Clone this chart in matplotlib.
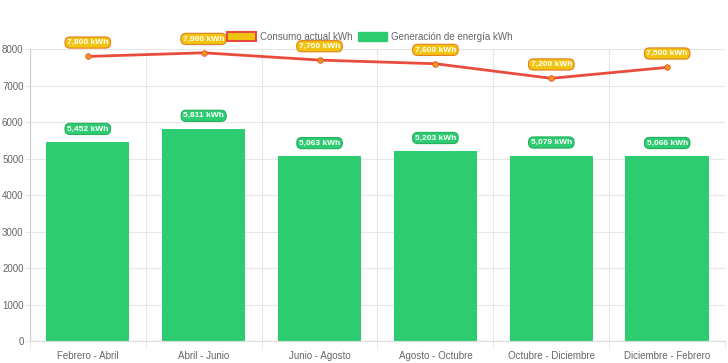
import numpy as np
import matplotlib.pyplot as plt
from matplotlib.patches import Patch

plt.rcParams['font.family'] = ['Liberation Sans', 'DejaVu Sans']

periods = ["Febrero - Abril", "Abril - Junio", "Junio - Agosto",
           "Agosto - Octubre", "Octubre - Diciembre", "Diciembre - Febrero"]
consumo = [7800, 7900, 7700, 7600, 7200, 7500]
generacion = [5452, 5811, 5063, 5203, 5079, 5066]

green = "#2ecc71"
red = "#e74c3c"
yellow = "#f1c40f"
grid_c = "#e6e6e6"
text_c = "#666666"

fig = plt.figure(figsize=(7.28, 3.63), dpi=100)
ax = fig.add_axes([0.041, 0.0606, 0.955, 0.804])

x = np.arange(len(periods))
ax.bar(x, generacion, width=0.72, color=green, zorder=2)
ax.plot(x, consumo, color=red, lw=2, zorder=3)
ax.plot(x, consumo, 'o', ms=4, mfc="#f39c12", mec=red, mew=0.6, zorder=4)

lbl_font = ['Liberation Sans Narrow', 'Liberation Sans', 'DejaVu Sans']
for xi, v in zip(x, generacion):
    ax.annotate(f"{v:,} kWh", (xi, v), xytext=(0, 9.5), textcoords="offset points",
                ha="center", va="center", fontsize=6, fontweight="bold", color="white",
                family=lbl_font,
                bbox=dict(boxstyle="round,pad=0.25,rounding_size=0.6", fc=green, ec="#27ae60", lw=0.8),
                zorder=5)
for xi, v in zip(x, consumo):
    ax.annotate(f"{v:,} kWh", (xi, v), xytext=(0, 10), textcoords="offset points",
                ha="center", va="center", fontsize=6, fontweight="bold", color="white",
                family=lbl_font,
                bbox=dict(boxstyle="round,pad=0.25,rounding_size=0.6", fc=yellow, ec="#e67e22", lw=0.8),
                zorder=5)

ax.set_xlim(-0.5, len(periods) - 0.5)
ax.set_ylim(0, 8000)
ax.set_yticks(range(0, 8001, 1000))
ax.set_xticks(x)
ax.set_xticklabels(periods)
ax.set_xticks(np.arange(-0.5, len(periods)), minor=True)
ax.tick_params(axis="x", which="major", length=0, pad=7, labelsize=7, labelcolor=text_c)
ax.tick_params(axis="x", which="minor", length=6, color=grid_c)
ax.tick_params(axis="y", length=3.5, color=grid_c, labelsize=7, labelcolor=text_c, pad=1)
ax.grid(axis="y", color=grid_c, lw=0.8, zorder=0)
ax.grid(axis="x", which="minor", color=grid_c, lw=0.8, zorder=0)
for s in ["top", "right"]:
    ax.spines[s].set_visible(False)
ax.spines["left"].set_color("#cccccc")
ax.spines["bottom"].set_color("#dddddd")

handles = [Patch(fc=yellow, ec=red, lw=1.5, label="Consumo actual kWh"),
           Patch(fc=green, ec=green, label="Generación de energía kWh")]
fig.legend(handles=handles, loc="center", bbox_to_anchor=(0.508, 0.898), ncol=2, frameon=False,
           fontsize=7, labelcolor=text_c, handlelength=3.0, handleheight=1.0,
           columnspacing=0.6, handletextpad=0.4)

fig.savefig("out.png", dpi=100)
